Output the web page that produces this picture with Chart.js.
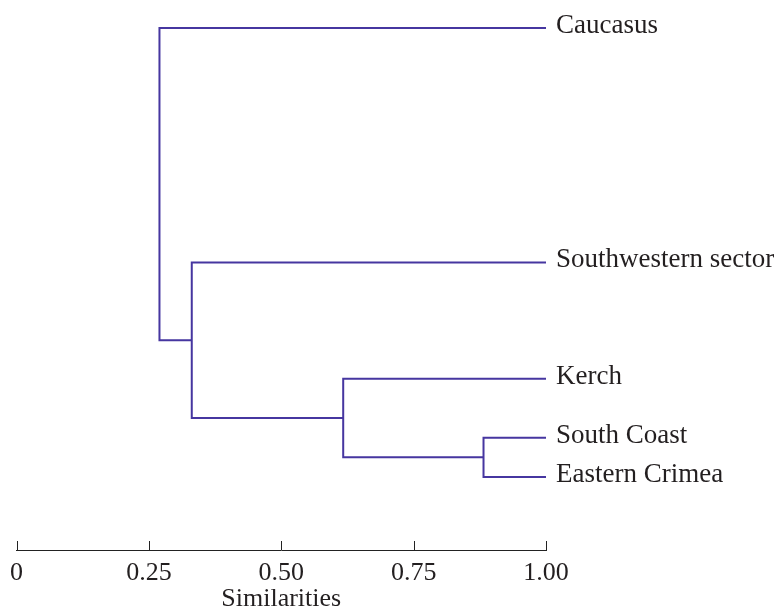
<!DOCTYPE html>
<html><head><meta charset="utf-8">
<script src="https://cdn.jsdelivr.net/npm/chart.js@4/dist/chart.umd.min.js"></script>
<style>html,body{margin:0;padding:0;background:#fff;}#wrap{width:776px;height:610px;}</style>
</head><body><div id="wrap"><canvas id="c" width="776" height="610"></canvas></div>
<script>
// Leaves (top to bottom) and their vertical positions (arbitrary units, 0 = top)
const leafNames = ['Caucasus', 'Southwestern sector', 'Kerch', 'South Coast', 'Eastern Crimea'];
const leafPos = [0, 44.9, 67.2, 78.5, 86.0];
// Merges: children (leaf index or 'mK' for earlier merge K) and similarity level
const mergeA = [3, 2, 1, 0];
const mergeB = [4, 'm0', 'm1', 'm2'];
const mergeSimilarity = [0.882, 0.617, 0.331, 0.270];
// Axis tick labels
const tickValues = [0, 0.25, 0.5, 0.75, 1];
const tickLabels = ['0', '0.25', '0.50', '0.75', '1.00'];
const axisTitle = 'Similarities';

const LINE = '#4636a0';
const TEXT = '#231f20';
const FONT = "'Liberation Serif', 'DejaVu Serif', serif";

const nodes = {};
function node(ref) {
  if (typeof ref === 'number') return {x: 1, y: leafPos[ref]};
  return nodes[ref];
}
const datasets = [];
mergeA.forEach((a, i) => {
  const na = node(a), nb = node(mergeB[i]);
  const mx = mergeSimilarity[i];
  nodes['m' + i] = {x: mx, y: (na.y + nb.y) / 2};
  datasets.push({
    data: [{x: na.x, y: na.y}, {x: mx, y: na.y}, {x: mx, y: nb.y}, {x: nb.x, y: nb.y}],
    showLine: true, borderColor: LINE, borderWidth: 2, pointRadius: 0, tension: 0,
    clip: false, fill: false
  });
});

const decor = {
  id: 'decor',
  afterDraw(chart) {
    const ctx = chart.ctx, xs = chart.scales.x, ys = chart.scales.y;
    const bottom = chart.chartArea.bottom;
    ctx.save();
    ctx.strokeStyle = '#222';
    ctx.lineWidth = 1;
    tickValues.forEach(v => {
      const px = Math.round(xs.getPixelForValue(v)) + 0.5;
      ctx.beginPath(); ctx.moveTo(px, bottom); ctx.lineTo(px, bottom - 9); ctx.stroke();
    });
    ctx.fillStyle = TEXT;
    ctx.font = "27px " + FONT;
    ctx.textBaseline = 'alphabetic';
    ctx.textAlign = 'left';
    leafNames.forEach((n, i) => {
      ctx.fillText(n, xs.getPixelForValue(1) + 10, ys.getPixelForValue(leafPos[i]) + 5);
    });
    ctx.restore();
  }
};

new Chart(document.getElementById('c'), {
  type: 'scatter',
  data: {datasets},
  options: {
    responsive: false,
    animation: false,
    layout: {padding: {left: 13, right: 230, top: 28, bottom: -2}},
    plugins: {legend: {display: false}, tooltip: {enabled: false}},
    scales: {
      x: {
        type: 'linear', min: 0, max: 1,
        afterBuildTicks(scale) { scale.ticks = tickValues.map(v => ({value: v})); },
        ticks: {
          callback: (v) => { const i = tickValues.indexOf(v); return i >= 0 ? tickLabels[i] : ''; },
          color: TEXT, font: {family: FONT, size: 26, lineHeight: 1}, padding: 10, maxRotation: 0, autoSkip: false
        },
        grid: {display: true, drawOnChartArea: false, drawTicks: false},
        border: {display: true, color: '#222', width: 1},
        title: {display: true, text: axisTitle, color: TEXT, font: {family: FONT, size: 26, lineHeight: 1}, padding: {top: -10, bottom: 0}}
      },
      y: {
        type: 'linear', min: 0, max: 100, reverse: true, display: false
      }
    }
  },
  plugins: [decor]
});
</script>
</body></html>
